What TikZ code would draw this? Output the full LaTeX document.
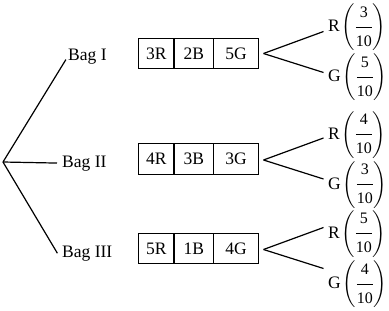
\documentclass[tikz,border=0pt]{standalone}
\usepackage{amsmath}
\usepackage{graphicx}
\usepackage{fontspec}
\setmainfont{Liberation Serif}
\usetikzlibrary{calc}
\tikzset{
  lbl/.style={inner sep=0pt, anchor=base west, font=\fontsize{17.5}{20}\selectfont},
  cell/.style={draw, line width=1.2pt, minimum height=30.5pt, inner sep=0pt, outer sep=0pt,
    text height=11.5pt, text depth=0pt, font=\fontsize{17.5}{20}\selectfont, anchor=west},
  br/.style={line width=1.2pt},
  fracnode/.style={inner sep=0pt, anchor=base west, font=\fontsize{16}{19}\selectfont},
}
\newcommand{\tallparen}[1]{\mathord{\vcenter{\hbox{\scalebox{1.05}[1.13]{$\bigg#1$}}}}}
\newcommand{\pfrac}[2]{$\mkern1mu\tallparen{(}\genfrac{}{}{0.9pt}{0}{\raisebox{2.5pt}{#1}}{\raisebox{-3pt}{#2}}\tallparen{)}$}
\begin{document}
\begin{tikzpicture}[x=1pt,y=-1pt]
\useasboundingbox (0,0) rectangle (389,311);
% root and bag labels
\coordinate (root) at (3,162);
\node[lbl] (B1) at (68,60) {Bag I};
\node[lbl] (B2) at (62,167) {Bag II};
\node[lbl] (B3) at (62,257) {Bag III};
\draw[br, shorten >=4pt] (root) -- (B1.west);
\draw[br, shorten >=5pt] (root) -- (B2.west);
\draw[br, shorten >=9pt] (root) -- (B3.south west);
% boxes
\node[cell, minimum width=35.5pt] (c11) at (138.5,53.5) {3R};
\node[cell, minimum width=39.5pt] (c12) at (c11.east) {2B};
\node[cell, minimum width=45pt]   (c13) at (c12.east) {5G};
\node[cell, minimum width=35.5pt] (c21) at (138.5,159) {4R};
\node[cell, minimum width=39.5pt] (c22) at (c21.east) {3B};
\node[cell, minimum width=45pt]   (c23) at (c22.east) {3G};
\node[cell, minimum width=35.5pt] (c31) at (138.5,248.5) {5R};
\node[cell, minimum width=39.5pt] (c32) at (c31.east) {1B};
\node[cell, minimum width=45pt]   (c33) at (c32.east) {4G};
% branch points
\coordinate (a1) at ($(c13.east)+(5,0)$);
\coordinate (a2) at ($(c23.east)+(5,1)$);
\coordinate (a3) at ($(c33.east)+(5,1)$);
\coordinate (u1) at ($(a1)+(60,-22)$);
\coordinate (d1) at ($(a1)+(60,19)$);
\coordinate (u2) at ($(a2)+(60,-22)$);
\coordinate (d2) at ($(a2)+(60,19)$);
\coordinate (u3) at ($(a3)+(60,-22)$);
\coordinate (d3) at ($(a3)+(60,19)$);
\draw[br] (a1) -- (u1);
\draw[br] (a1) -- (d1);
\draw[br] (a2) -- (u2);
\draw[br] (a2) -- (d2);
\draw[br] (a3) -- (u3);
\draw[br] (a3) -- (d3);
% outcome labels
\node[lbl] (R1) at (328,31.5) {R};
\node[fracnode] (F1) at (R1.base east) {\pfrac{3}{10}};
\node[lbl] (G1) at (328,81.5) {G};
\node[fracnode] (F2) at (G1.base east) {\pfrac{5}{10}};
\node[lbl] (R2) at (328,139) {R};
\node[fracnode] (F3) at (R2.base east) {\pfrac{4}{10}};
\node[lbl] (G2) at (328,189) {G};
\node[fracnode] (F4) at (G2.base east) {\pfrac{3}{10}};
\node[lbl] (R3) at (328,238) {R};
\node[fracnode] (F5) at (R3.base east) {\pfrac{5}{10}};
\node[lbl] (G3) at (328,288.5) {G};
\node[fracnode] (F6) at (G3.base east) {\pfrac{4}{10}};
\end{tikzpicture}
\end{document}
